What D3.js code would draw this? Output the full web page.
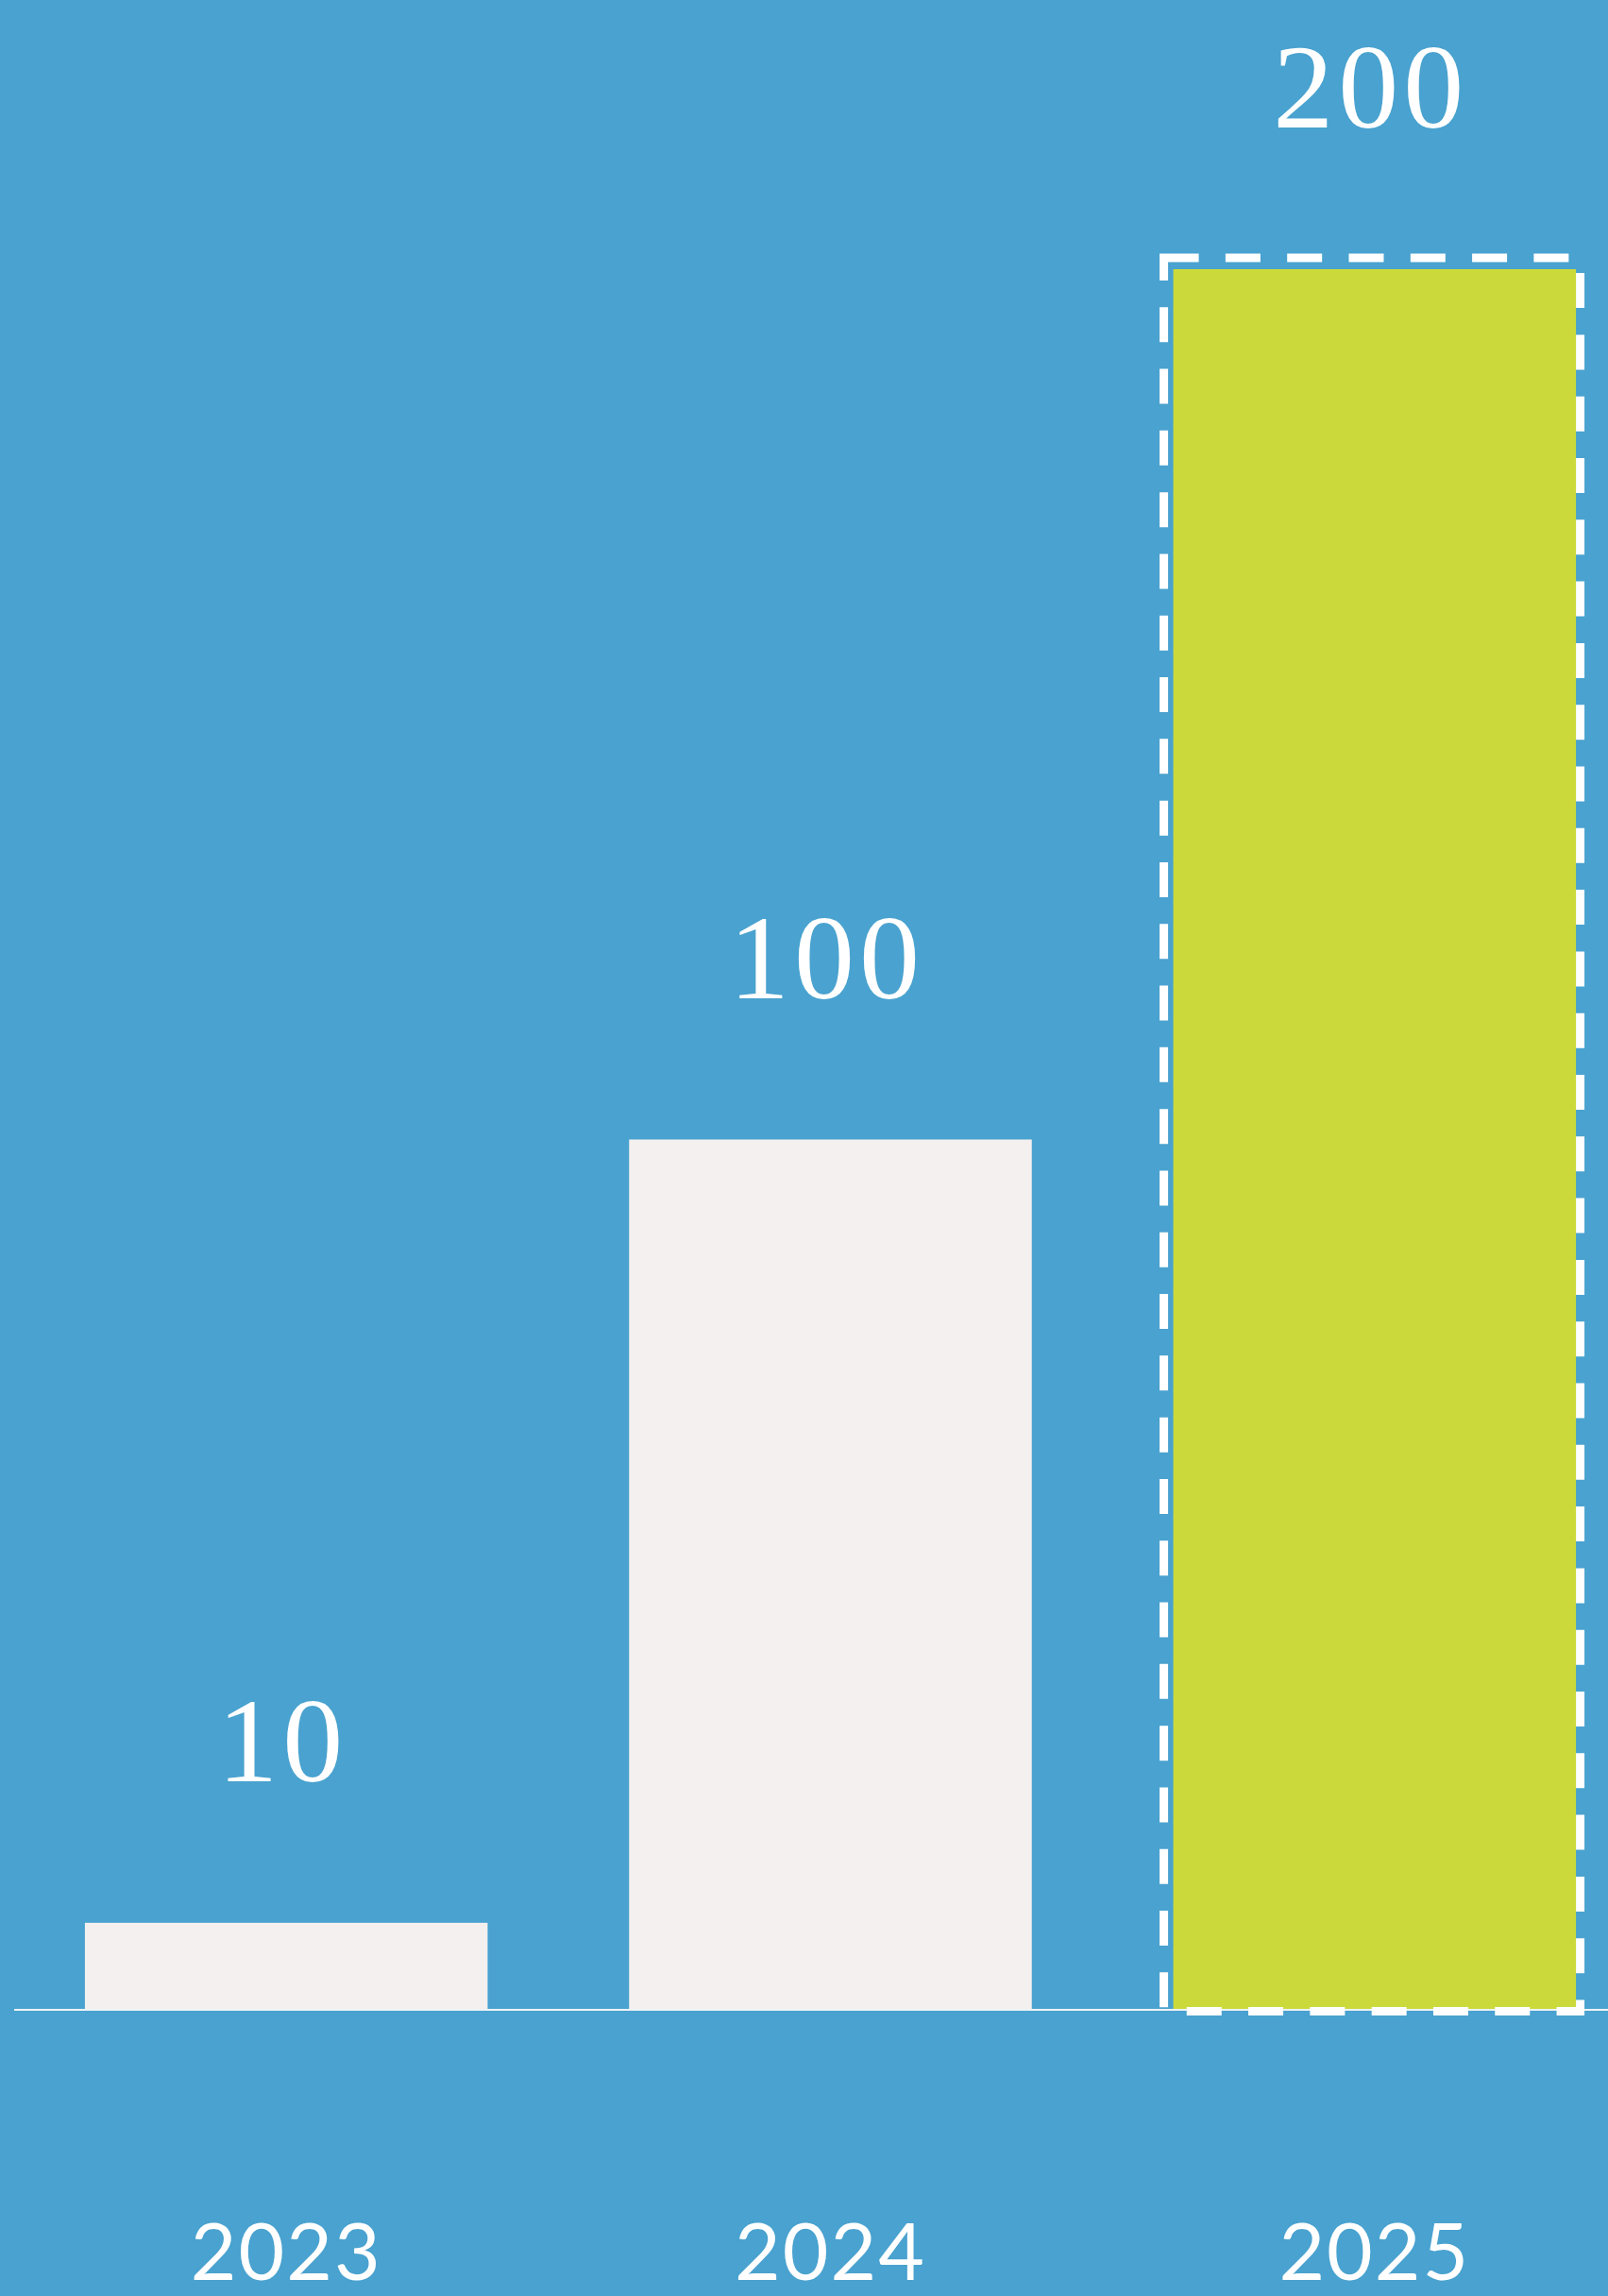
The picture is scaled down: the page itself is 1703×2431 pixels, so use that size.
<!DOCTYPE html>
<html>
<head>
<meta charset="utf-8">
<script src="https://cdn.jsdelivr.net/npm/d3@7"></script>
<style>
  html, body { margin: 0; padding: 0; background: #49a2cf; overflow: hidden; }
  svg { display: block; }
</style>
</head>
<body>
<div id="chart"></div>
<script>
// Yearly values
const years = ["2023", "2024", "2025"];
const values = [10, 100, 200];
const valueLabels = ["10", "100", "200"];
const highlightYear = "2025";

const W = 1703, H = 2431;
const baseY = 2128;

const svg = d3.select("#chart").append("svg")
  .attr("width", W).attr("height", H);

svg.append("rect").attr("width", W).attr("height", H).attr("fill", "#49a2cf");

const x = d3.scaleBand()
  .domain(years)
  .range([15, 1744])
  .paddingInner(0.26)
  .paddingOuter(0.13);

const y = d3.scaleLinear()
  .domain([0, 200])
  .range([baseY, 285]);

const data = years.map((yr, i) => ({ year: yr, value: values[i], label: valueLabels[i] }));

// Bars
svg.append("g").selectAll("rect")
  .data(data)
  .join("rect")
  .attr("x", d => x(d.year))
  .attr("y", d => y(d.value))
  .attr("width", x.bandwidth())
  .attr("height", d => y(0) - y(d.value) - 1)
  .attr("fill", d => d.year === highlightYear ? "#cbda3a" : "#f4f0ef");

// Baseline
svg.append("line")
  .attr("x1", 15).attr("x2", W)
  .attr("y1", y(0)).attr("y2", y(0))
  .attr("stroke", "#eef3f6")
  .attr("stroke-width", 2);

// Dashed outline around the highlighted bar
const hi = data.find(d => d.year === highlightYear);
const hx0 = x(hi.year) - 10;
const hx1 = x(hi.year) + x.bandwidth() + 4.5;
const hy0 = y(hi.value) - 12;
const hy1 = y(0) + 1.5;
svg.append("rect")
  .attr("x", hx0).attr("y", hy0)
  .attr("width", hx1 - hx0).attr("height", hy1 - hy0)
  .attr("fill", "none")
  .attr("stroke", "#ffffff")
  .attr("stroke-width", 9)
  .attr("stroke-dasharray", "37 28.3");

// Value labels
svg.append("g").selectAll("text")
  .data(data)
  .join("text")
  .attr("x", d => x(d.year) + x.bandwidth() / 2 - 4)
  .attr("y", d => y(d.value) - 150)
  .attr("text-anchor", "middle")
  .attr("fill", "#ffffff")
  .attr("font-family", "'Liberation Serif', 'DejaVu Serif', serif")
  .attr("font-size", 128)
  .attr("letter-spacing", 5)
  .text(d => d.label);

// Year labels
const xAxis = svg.append("g")
  .attr("transform", `translate(0, ${baseY})`)
  .call(d3.axisBottom(x).tickSize(0).tickPadding(0));
xAxis.select(".domain").remove();
xAxis.selectAll("text")
  .attr("dy", 0)
  .attr("y", 286)
  .attr("fill", "#ffffff")
  .attr("font-family", "Lato, 'Open Sans', sans-serif")
  .attr("font-size", 84)
  .attr("font-weight", 400)
  .attr("letter-spacing", 2);
</script>
</body>
</html>
